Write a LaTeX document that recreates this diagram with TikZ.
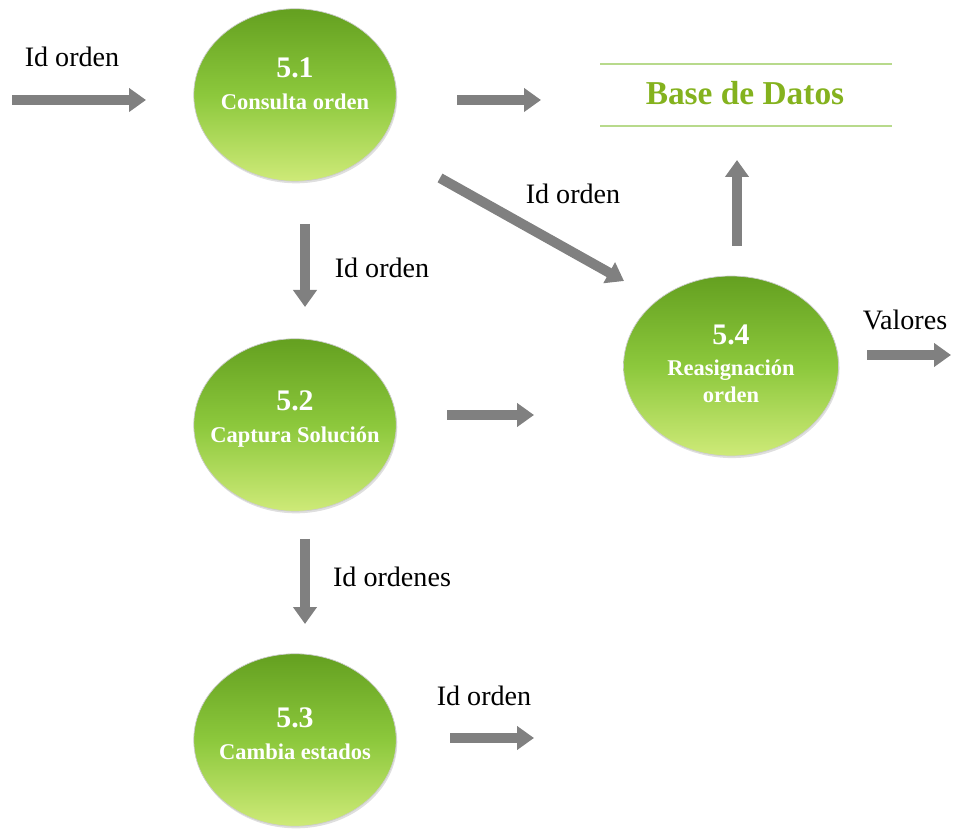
\documentclass[tikz,border=0pt]{standalone}
\usepackage{fontspec}
\setmainfont{Liberation Serif}
\usetikzlibrary{arrows.meta,shadows,shapes.geometric}
\definecolor{arrowgray}{RGB}{128,128,128}
\definecolor{dbline}{RGB}{184,218,140}
\definecolor{dbtext}{RGB}{132,178,30}
\definecolor{gtop}{RGB}{100,160,32}
\definecolor{gmid}{RGB}{140,200,60}
\definecolor{gbot}{RGB}{206,234,120}
\tikzset{
  proc/.style={ellipse, minimum width=4.05cm, minimum height=3.45cm, inner sep=0pt,
    top color=gtop, bottom color=gbot, middle color=gmid,
    draw=gray!40, line width=0.4pt,
    drop shadow={opacity=0.25, shadow xshift=0.6pt, shadow yshift=-1.2pt}},
  ptext/.style={text=white, align=center, inner sep=0pt,
    font=\bfseries\fontsize{12.8}{15}\selectfont},
  flow/.style={draw=arrowgray, line width=0.2cm,
    -{Triangle[length=0.34cm,width=0.46cm]}},
  lbl/.style={font=\fontsize{16}{19}\selectfont, text=black, inner sep=0pt}
}
\newcommand{\pnum}[1]{{\fontsize{17}{22}\selectfont #1}\\[3pt]}
\begin{document}
\begin{tikzpicture}[x=0.02cm,y=-0.02cm]
\useasboundingbox (0,0) rectangle (953,830);
% processes
\node[proc] (p1) at (295,95) {};
\node[proc] (p2) at (295,425) {};
\node[proc] (p3) at (295,740) {};
\node[proc, minimum width=4.3cm, minimum height=3.6cm] (p4) at (731,366) {};
\node[ptext] (t1) at ([yshift=0.22cm]p1.center) {\pnum{5.1}Consulta orden};
\node[ptext] (t2) at ([yshift=0.12cm]p2.center) {\pnum{5.2}Captura Solución};
\node[ptext] (t3) at ([yshift=0.12cm]p3.center) {\pnum{5.3}Cambia estados};
\node[ptext] (t4) at ([yshift=0.05cm]p4.center) {\pnum{5.4}Reasignación\\orden};
% data store
\coordinate (dbl1) at (600,64);
\coordinate (dbr1) at (892,64);
\coordinate (dbl2) at (600,126);
\coordinate (dbr2) at (892,126);
\draw[dbline, line width=1.2pt] (dbl1) -- (dbr1);
\draw[dbline, line width=1.2pt] (dbl2) -- (dbr2);
\node[text=dbtext, font=\bfseries\fontsize{19}{22}\selectfont] (db) at (745,93) {Base de Datos};
% arrow end points
\coordinate (a1s) at (12,100);   \coordinate (a1e) at (146,100);
\coordinate (a2s) at (457,100);  \coordinate (a2e) at (541,100);
\coordinate (a3s) at (440,178);  \coordinate (a3e) at (624,281);
\coordinate (a4s) at (305,224);  \coordinate (a4e) at (305,307);
\coordinate (a5s) at (737,246);  \coordinate (a5e) at (737,160);
\coordinate (a6s) at (867,355);  \coordinate (a6e) at (951,355);
\coordinate (a7s) at (447,415);  \coordinate (a7e) at (534,415);
\coordinate (a8s) at (305,539);  \coordinate (a8e) at (305,624);
\coordinate (a9s) at (450,738);  \coordinate (a9e) at (534,738);
\draw[flow] (a1s) -- (a1e);
\draw[flow] (a2s) -- (a2e);
\draw[flow] (a3s) -- (a3e);
\draw[flow] (a4s) -- (a4e);
\draw[flow] (a5s) -- (a5e);
\draw[flow] (a6s) -- (a6e);
\draw[flow] (a7s) -- (a7e);
\draw[flow] (a8s) -- (a8e);
\draw[flow] (a9s) -- (a9e);
% labels
\node[lbl] (l1) at (72,57) {Id orden};
\node[lbl] (l3) at (573,194) {Id orden};
\node[lbl] (l4) at (382,268) {Id orden};
\node[lbl] (l6) at (905,320) {Valores};
\node[lbl] (l8) at (392,577) {Id ordenes};
\node[lbl] (l9) at (484,696) {Id orden};
\end{tikzpicture}
\end{document}
